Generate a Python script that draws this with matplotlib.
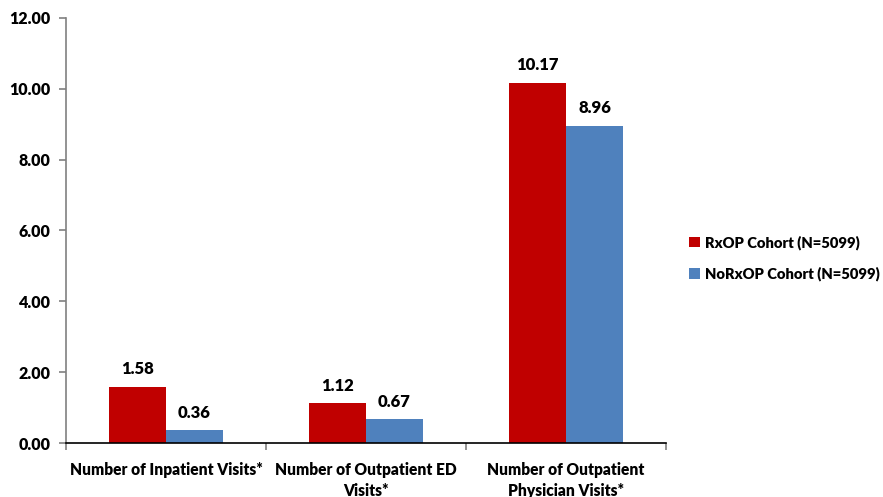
import matplotlib.pyplot as plt
import numpy as np

categories = ["Number of Inpatient Visits*", "Number of Outpatient ED\nVisits*",
              "Number of Outpatient\nPhysician Visits*"]
rxop = [1.58, 1.12, 10.17]
norxop = [0.36, 0.67, 8.96]
series_names = ["RxOP Cohort (N=5099)", "NoRxOP Cohort (N=5099)"]

plt.rcParams['font.family'] = ['Lato', 'DejaVu Sans']
WT = 'heavy'

fig = plt.figure(figsize=(8.83, 4.97), dpi=100)
ax = fig.add_axes([66 / 883, 54 / 497, 600 / 883, 425 / 497])

x = np.arange(len(categories))
w = 0.285
b1 = ax.bar(x - w / 2, rxop, w, color='#C00000', label=series_names[0])
b2 = ax.bar(x + w / 2, norxop, w, color='#4F81BD', label=series_names[1])

for bars, vals in ((b1, rxop), (b2, norxop)):
    for bar, v in zip(bars, vals):
        ax.annotate(f"{v:.2f}", (bar.get_x() + bar.get_width() / 2, v),
                    xytext=(0, 7), textcoords='offset points',
                    ha='center', va='bottom', fontsize=12, fontweight=WT)

ax.set_xlim(-0.5, 2.5)
ax.set_ylim(0, 12)
ax.set_yticks(np.arange(0, 13, 2))
ax.set_yticklabels([f"{t:.2f}" for t in np.arange(0, 13, 2)], fontsize=11.5, fontweight=WT)

ax.set_xticks([-0.5, 0.5, 1.5, 2.5])
ax.set_xticklabels([])
ax.set_xticks(x, minor=True)
ax.set_xticklabels(categories, minor=True, fontsize=11.2, fontweight=WT, linespacing=1.35)
ax.tick_params(axis='x', which='minor', length=0, pad=14)
ax.tick_params(axis='x', which='major', length=5, color='#808080', width=1.2)
ax.tick_params(axis='y', length=5, color='#808080', width=1.2, pad=6)

for s in ('top', 'right'):
    ax.spines[s].set_visible(False)
ax.spines['left'].set_color('#808080')
ax.spines['left'].set_linewidth(1.2)
ax.spines['bottom'].set_color('black')
ax.spines['bottom'].set_linewidth(1.2)

fig.legend(loc='center left', bbox_to_anchor=(676 / 883, 1 - 258 / 497), frameon=False,
           handlelength=0.7, handleheight=0.7, handletextpad=0.4,
           labelspacing=1.15, prop={'weight': WT, 'size': 10.6})

fig.savefig('out.png', dpi=100)
